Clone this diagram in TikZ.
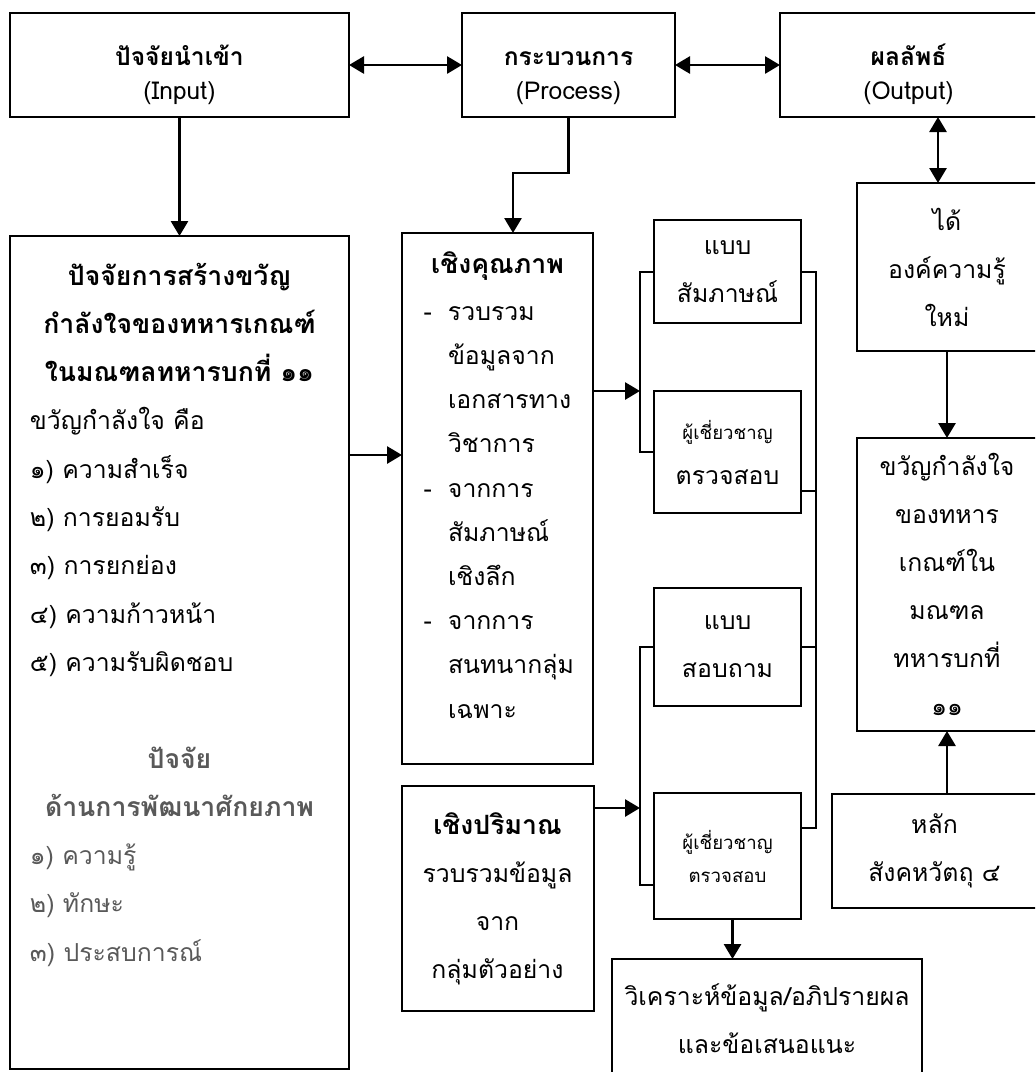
\documentclass[tikz,border=0pt]{standalone}
\usepackage{fontspec}
\setmainfont[Script=Thai]{Loma}
\usetikzlibrary{arrows.meta}
\usetikzlibrary{positioning}
\definecolor{softgray}{HTML}{595959}
\newcommand{\boxfont}[2]{\fontsize{#1}{#2}\selectfont\lineskiplimit-100pt\relax}
\newcommand{\boldline}[1]{{\fontsize{13.3}{24}\selectfont\bfseries #1}}
\newcommand{\topbold}[1]{{\fontsize{12.3}{17}\selectfont\bfseries #1}}

\begin{document}
\begin{tikzpicture}[x=0.5pt, y=-0.5pt,
  box/.style={rectangle, draw, line width=1pt, outer sep=0pt, inner sep=0pt, align=center},
  txt/.style={font={\boxfont{12.4}{24}}},
  toptxt/.style={font={\boxfont{12.3}{17}}},
  smalltxt/.style={font={\boxfont{9.3}{16.5}}},
  arr/.style={line width=1.4pt, -{Triangle[length=7.5pt, width=8.5pt]}},
  darr/.style={line width=1.4pt, {Triangle[length=7.5pt, width=8.5pt]}-{Triangle[length=7.5pt, width=8.5pt]}},
  link/.style={line width=1pt}]
  \useasboundingbox (0,0) rectangle (1035,1072);
  \clip (0,0) rectangle (1035,1072);

  % --- Top row ---

  % Input
  \node[box, toptxt, minimum width=169.5pt, minimum height=52pt, anchor=north west] (input) at (10,13) {\rule{0pt}{21pt}\topbold{ปัจจัยนำเข้า}\\(Input)\rule[-4pt]{0pt}{4pt}};

  % Process
  \node[box, toptxt, minimum width=106.5pt, minimum height=52pt, right=56.5pt of input] (proc) {\rule{0pt}{21pt}\topbold{กระบวนการ}\\(Process)\rule[-4pt]{0pt}{4pt}};

  % Output
  \node[box, toptxt, minimum width=128.5pt, minimum height=52pt, right=52.5pt of proc] (outp) {\rule{0pt}{21pt}\topbold{ผลลัพธ์}\\(Output)\rule[-4pt]{0pt}{4pt}};

  % --- Input column ---
  \node[box, txt, below=59.5pt of input] (lbox) {\parbox[t][416.5pt][t]{169.5pt}{%
    \boxfont{13.3}{24.15}%
    \centering\bfseries
    \rule{0pt}{24.5pt}ปัจจัยการสร้างขวัญ\\
    กำลังใจของทหารเกณฑ์\\
    ในมณฑลทหารบกที่ ๑๑\par
    \raggedright\boxfont{12.4}{24.15}\mdseries\leftskip=10pt
    ขวัญกำลังใจ คือ\\
    ๑) ความสำเร็จ\\
    ๒) การยอมรับ\\
    ๓) การยกย่อง\\
    ๔) ความก้าวหน้า\\
    ๕) ความรับผิดชอบ\\
    \mbox{}\par
    \color{softgray}\centering\boxfont{13.3}{24.15}\bfseries
    ปัจจัย\\
    ด้านการพัฒนาศักยภาพ\par
    \raggedright\boxfont{12.4}{24.15}\mdseries\leftskip=10pt
    ๑) ความรู้\\
    ๒) ทักษะ\\
    ๓) ประสบการณ์\par}};

  % --- Process column ---

  % Qualitative
  \node[box, txt, anchor=north west] (qual) at (402,233) {\parbox[t][265.5pt][t]{95.5pt}{%
    \boxfont{13.3}{22.1}%
    \centering\bfseries
    \rule{0pt}{20pt}เชิงคุณภาพ\par
    \vspace{1.5pt}
    \raggedright\boxfont{12.4}{22.1}\mdseries\leftskip=23pt
    \leavevmode\llap{-\hspace{8pt}}รวบรวม\\ข้อมูลจาก\\เอกสารทาง\\วิชาการ\par
    \leavevmode\llap{-\hspace{8pt}}จากการ\\สัมภาษณ์\\เชิงลึก\par
    \leavevmode\llap{-\hspace{8pt}}จากการ\\สนทนากลุ่ม\\เฉพาะ\par}};

  % Quantitative
  \node[box, txt, minimum width=96pt, minimum height=112.5pt, below=11pt of qual] (quant) {\boldline{เชิงปริมาณ}\\รวบรวมข้อมูล\\จาก\\กลุ่มตัวอย่าง};

  % Tools
  \node[box, txt, minimum width=73.5pt, minimum height=51.5pt, anchor=north west] (intv) at (654,220) {แบบ\\สัมภาษณ์};
  \node[box, txt, minimum width=73.5pt, minimum height=61pt, below=34pt of intv] (exp1) {{\boxfont{9.3}{16.5}ผู้เชี่ยวชาญ}\\[-1.5pt]ตรวจสอบ};
  \node[box, txt, minimum width=73.5pt, minimum height=59pt, below=37.5pt of exp1] (quest) {แบบ\\สอบถาม};
  \node[box, smalltxt, minimum width=73.5pt, minimum height=63pt, below=43.5pt of quest] (exp2) {ผู้เชี่ยวชาญ\\ตรวจสอบ};

  % Analysis
  \node[box, txt, minimum width=155pt, minimum height=59.5pt, anchor=north west] (anl) at (612,959) {วิเคราะห์ข้อมูล/อภิปรายผล\\และข้อเสนอแนะ};

  % --- Output column ---
  \node[box, txt, minimum width=90pt, minimum height=84pt, anchor=north west] (know) at (857,183) {ได้\\องค์ความรู้\\ใหม่};
  \node[box, txt, minimum width=90pt, minimum height=146.5pt, below=43.5pt of know] (morale) {ขวัญกำลังใจ\\ของทหาร\\เกณฑ์ใน\\มณฑล\\ทหารบกที่\\๑๑};
  \node[box, txt, minimum width=102.5pt, minimum height=57pt, anchor=north west] (sangk) at (832,794) {หลัก\\สังคหวัตถุ ๔};

  % --- Connectors ---
  \coordinate (lspine1) at ([xshift=-7pt]exp1.west);
  \coordinate (lspine2) at ([xshift=-7pt]exp2.west);
  \coordinate (rspine) at ([xshift=7.5pt]intv.east);
  \coordinate (exp1r) at ([yshift=-19.5pt]exp1.east);
  \coordinate (exp2r) at ([yshift=-17.5pt]exp2.north east);
  \coordinate (exp2l) at ([yshift=-14.5pt]exp2.west);
  \coordinate (quanta) at ([yshift=-11pt]quant.north east);
  \coordinate (lboxa) at ([yshift=21.75pt]qual.west);
  \coordinate (exp2s) at ([xshift=2.5pt]exp2.south);
  \coordinate (knowa) at ([xshift=-4.5pt]know.north);
  \coordinate (procb) at ([xshift=7.75pt]qual.north);

  \draw[darr] (input) -- (proc);
  \draw[darr] (proc) -- (outp);
  \draw[arr] (input) -- (lbox);
  \draw[arr] (proc.south) -- ++(0,56) -| (procb);
  \draw[darr] (knowa |- outp.south) -- (knowa);
  \draw[arr] (know) -- (morale);
  \draw[arr] (sangk.north -| morale.south) -- (morale.south);
  \draw[arr] (lboxa -| lbox.east) -- (lboxa);

  % interview / expert bracket
  \draw[arr] (qual.east |- exp1.north) -- (lspine1 |- exp1.north);
  \draw[link] (intv.west) -| (lspine1) -- (exp1.west);
  \draw[link] (intv.east) -- (rspine) |- (exp2r);
  \draw[link] (exp1r) -- (exp1r -| rspine);
  \draw[link] (quest.east) -- (quest.east -| rspine);

  % questionnaire / expert bracket
  \draw[arr] (quanta) -- (quanta -| lspine2);
  \draw[link] (quest.west) -| (exp2l -| lspine2) -- (exp2l);
  \draw[arr] (exp2s) -- (exp2s |- anl.north);
\end{tikzpicture}
\end{document}
